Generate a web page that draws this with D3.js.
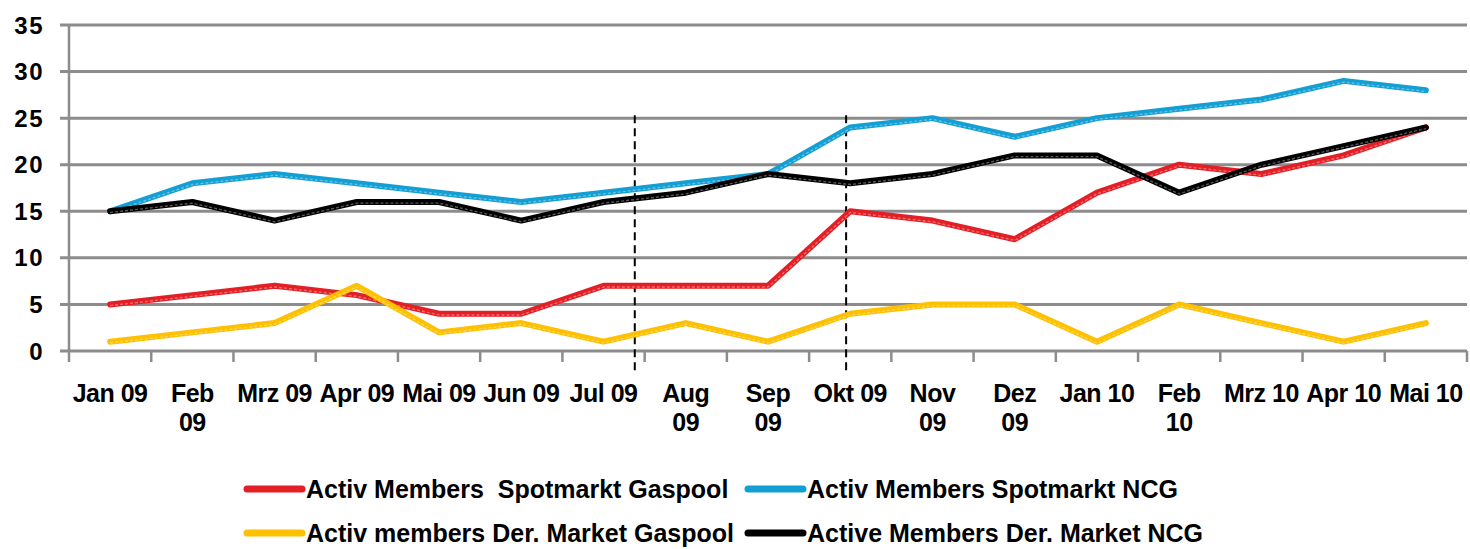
<!DOCTYPE html>
<html>
<head>
<meta charset="utf-8">
<script src="https://cdn.jsdelivr.net/npm/d3@7"></script>
<style>
  body { margin: 0; background: #fff; }
  text { font-family: "Liberation Sans", Arial, sans-serif; font-weight: bold; fill: #000; }
</style>
</head>
<body>
<div id="chart"></div>
<script>
// months shown on the x axis ("\n" = wrapped label)
var months = ["Jan 09", "Feb\n09", "Mrz 09", "Apr 09", "Mai 09", "Jun 09", "Jul 09", "Aug\n09", "Sep\n09",
              "Okt 09", "Nov\n09", "Dez\n09", "Jan 10", "Feb\n10", "Mrz 10", "Apr 10", "Mai 10"]

var spotGaspool = [5, 6, 7, 6, 4, 4, 7, 7, 7, 15, 14, 12, 17, 20, 19, 21, 24]
var spotNCG     = [15, 18, 19, 18, 17, 16, 17, 18, 19, 24, 25, 23, 25, 26, 27, 29, 28]
var derGaspool  = [1, 2, 3, 7, 2, 3, 1, 3, 1, 4, 5, 5, 1, 5, 3, 1, 3]
var derNCG      = [15, 16, 14, 16, 16, 14, 16, 17, 19, 18, 19, 21, 21, 17, 20, 22, 24]

var seriesNames = ["Activ Members  Spotmarkt Gaspool", "Activ Members Spotmarkt NCG",
                   "Activ members Der. Market Gaspool", "Active Members Der. Market NCG"]
var seriesColors = ["#e41e25", "#139fd3", "#ffc000", "#000000"]

var yTicks = [0, 5, 10, 15, 20, 25, 30, 35]

// dashed markers, in month-index units
var markers = [6.38, 8.95]

var width = 1470
var height = 549
var plotLeft = 69, plotRight = 1467, plotTop = 25, plotBottom = 351

var svg = d3.select("#chart").append("svg")
    .attr("width", width)
    .attr("height", height)

var x = d3.scaleLinear().domain([-0.5, months.length - 0.5]).range([plotLeft, plotRight])
var y = d3.scaleLinear().domain([0, 35]).range([plotBottom, plotTop])

var grey = "#8c8c8c"

// gridlines
svg.selectAll(".grid")
  .data(yTicks)
  .enter()
  .append("line")
    .attr("x1", plotLeft - 9)
    .attr("x2", plotRight)
    .attr("y1", d => y(d))
    .attr("y2", d => y(d))
    .attr("stroke", grey)
    .attr("stroke-width", 3)

// y axis line
svg.append("line")
    .attr("x1", plotLeft).attr("x2", plotLeft)
    .attr("y1", y(35)).attr("y2", plotBottom)
    .attr("stroke", grey).attr("stroke-width", 2.5)

// x ticks at band boundaries
svg.selectAll(".xtick")
  .data(d3.range(months.length + 1))
  .enter()
  .append("line")
    .attr("x1", d => x(d - 0.5))
    .attr("x2", d => x(d - 0.5))
    .attr("y1", plotBottom)
    .attr("y2", plotBottom + 11)
    .attr("stroke", grey)
    .attr("stroke-width", 2.5)

// y labels
svg.selectAll(".ylab")
  .data(yTicks)
  .enter()
  .append("text")
    .attr("x", 44)
    .attr("y", d => y(d) + 8.5)
    .attr("text-anchor", "end")
    .style("font-size", "24px")
    .style("letter-spacing", "1.5px")
    .text(d => d)

// x labels
var xl = svg.selectAll(".xlab")
  .data(months)
  .enter()
  .append("text")
    .attr("text-anchor", "middle")
    .style("font-size", "25px")
    .style("letter-spacing", "-0.5px")

xl.selectAll("tspan")
  .data((d, i) => d.split("\n").map(s => ({ s: s, i: i })))
  .enter()
  .append("tspan")
    .attr("x", d => x(d.i))
    .attr("y", (d, j) => 402 + j * 29)
    .text(d => d.s)

// dashed vertical markers
svg.selectAll(".marker")
  .data(markers)
  .enter()
  .append("line")
    .attr("x1", d => x(d))
    .attr("x2", d => x(d))
    .attr("y1", y(25) - 3)
    .attr("y2", plotBottom + 22)
    .attr("stroke", "#000")
    .attr("stroke-width", 2)
    .attr("stroke-dasharray", "8,5")

// lines
var allSeries = [spotGaspool, spotNCG, derGaspool, derNCG]

var line = d3.line()
    .x((d, i) => x(i))
    .y(d => y(d))

allSeries.forEach(function(vals, k) {
    svg.append("path")
        .attr("d", line(vals))
        .attr("fill", "none")
        .attr("stroke", seriesColors[k])
        .attr("stroke-width", 6)
        .attr("stroke-linejoin", "round")
        .attr("stroke-linecap", "round")
    // faint dotted highlight like the excel shadow
    svg.append("path")
        .attr("d", line(vals))
        .attr("transform", "translate(0,1.2)")
        .attr("fill", "none")
        .attr("stroke", "#fff")
        .attr("stroke-opacity", 0.35)
        .attr("stroke-width", 1.4)
        .attr("stroke-dasharray", "3,2")
})

// legend
var legendPos = [[247, 489], [748, 489], [247, 533], [748, 533]]

var lg = svg.selectAll(".legend")
  .data(seriesNames)
  .enter()
  .append("g")
    .attr("transform", (d, i) => "translate(" + legendPos[i][0] + "," + legendPos[i][1] + ")")

lg.append("line")
    .attr("x1", 0).attr("x2", 55)
    .attr("y1", 0).attr("y2", 0)
    .attr("stroke", (d, i) => seriesColors[i])
    .attr("stroke-width", 7)
    .attr("stroke-linecap", "round")

lg.append("text")
    .attr("x", 59)
    .attr("y", 9)
    .style("font-size", "25px")
    .style("white-space", "pre")
    .attr("xml:space", "preserve")
    .text(d => d)
</script>
</body>
</html>
